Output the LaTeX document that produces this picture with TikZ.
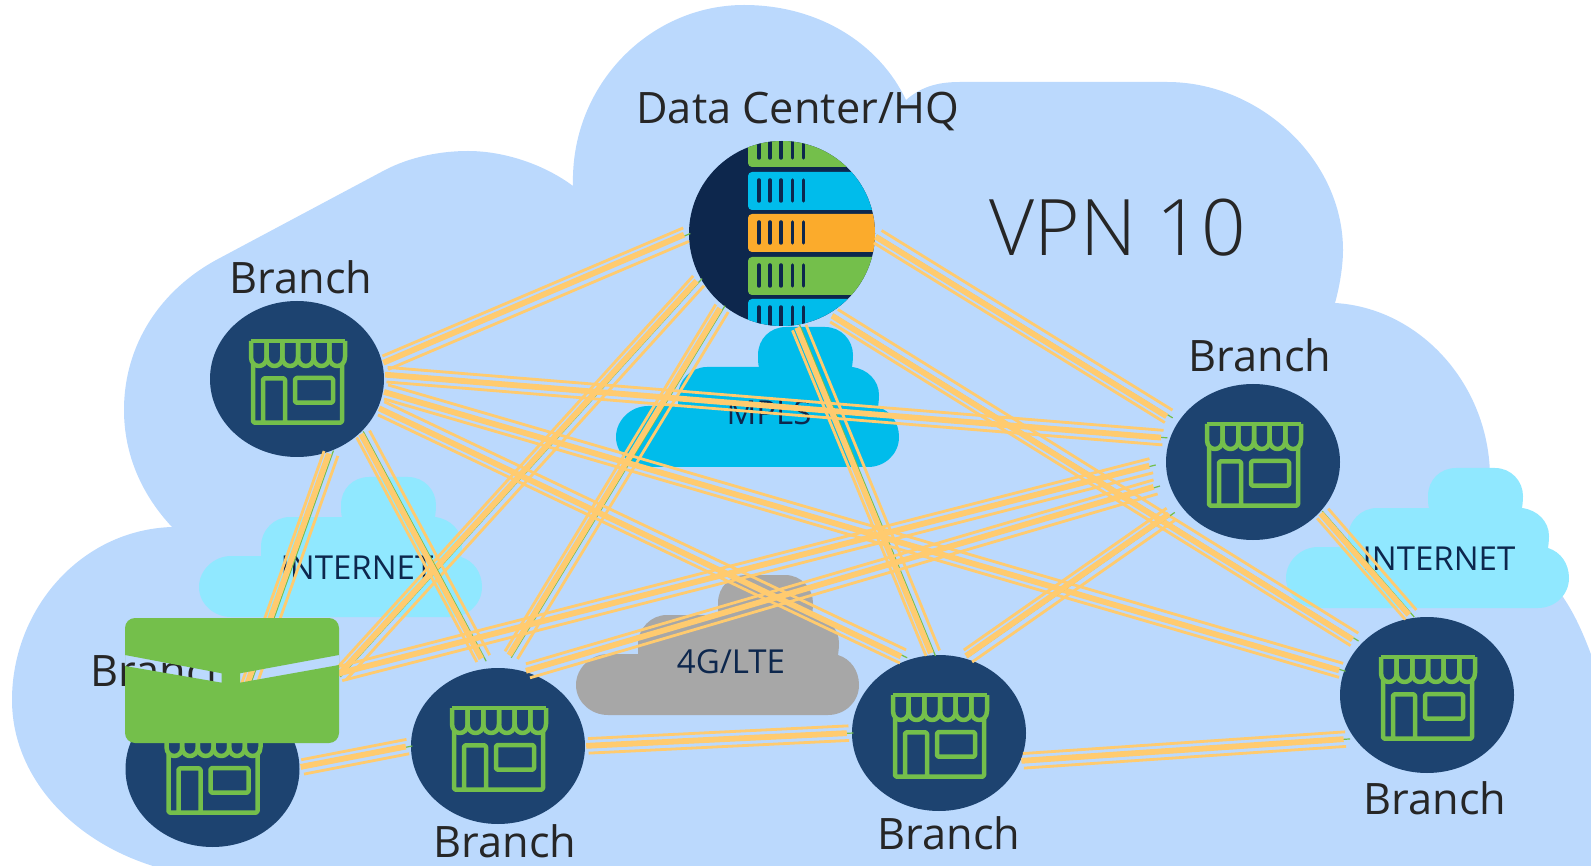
\documentclass[tikz,border=0pt]{standalone}
\usepackage{fontspec}
\setmainfont{Open Sans}
\newfontfamily\lightfont{Open Sans Light}
\usepackage{xcolor}
\definecolor{vpnblue}{RGB}{187,217,253}
\definecolor{sitenavy}{RGB}{29,67,112}
\definecolor{hqnavy}{RGB}{13,39,77}
\definecolor{leafgreen}{RGB}{116,191,75}
\definecolor{wanorange}{RGB}{255,203,111}
\definecolor{rackorange}{RGB}{251,171,44}
\definecolor{mplsblue}{RGB}{0,188,235}
\definecolor{netblue}{RGB}{144,232,255}
\definecolor{ltegray}{RGB}{167,167,167}
\usetikzlibrary{calc}
\usetikzlibrary{shapes.geometric}
\tikzset{
    site/.style={ellipse, fill=sitenavy, inner sep=0pt, minimum width=174pt, minimum height=156pt},
    sitelabel/.style={inner sep=0pt, text=black!85, font=\fontsize{43.3}{44}\selectfont},
    cloudlabel/.style={inner sep=0pt, text=hqnavy, font=\fontsize{33}{33}\selectfont},
    wanside/.style={wanorange, line width=2.8pt},
    wancore/.style={wanorange, line width=5.8pt},
    wanwire/.style={leafgreen, line width=1.2pt},
    hubrack/.style={
        path picture={
            \begin{scope}[shift={(path picture bounding box.center)}]
                \foreach \col/\top in {leafgreen/-104.5, mplsblue/-61.5, rackorange/-19.5, leafgreen/23.5, mplsblue/65.5} {
                    \fill[\col, rounded corners=4pt] (-34,\top) rectangle (110,\top+38);
                    \foreach \tick in {-23,-12,-1,10.7,21.7}
                        \draw[hqnavy, line width=3.5pt, line cap=round] (\tick,\top+8) -- (\tick,\top+29);
                }
            \end{scope}
        }
    },
    store/.pic={
        \draw[leafgreen, line width=4.5pt, line join=round, rounded corners=1.5pt]
            (-44,-15) -- (-44,43.7) -- (45,43.7) -- (45,-15)
            (-34,43.7) -- (-34,-0.7) -- (-12,-0.7) -- (-12,43.7)
            (-2,-1) rectangle (36,23.7);
        \draw[leafgreen, line width=4.5pt, line join=round] (-46,-38) -- (48,-38);
        \foreach \x in {-46,-30.33,-14.67,1,16.67,32.33}
            \draw[leafgreen, line width=4.5pt, line join=round]
                (\x,-38) -- (\x,-22) .. controls (\x,-10) and (\x+15.67,-10) .. (\x+15.67,-22) -- (\x+15.67,-38);
    },
    wancloud/.pic={
        \fill[pic actions] (32,140) .. controls (15,140) and (0,127) .. (0,110)
            .. controls (0,93) and (15,79) .. (32,79) -- (62,79) -- (62,70)
            .. controls (62,53) and (75,40) .. (91,40) -- (143,40)
            .. controls (142,37) and (142,33) .. (142,28)
            .. controls (142,12) and (154,0) .. (170,0) -- (209,0)
            .. controls (225,0) and (237,13) .. (237,28)
            .. controls (237,32) and (236.5,37) .. (236,40)
            .. controls (252,42) and (263,54) .. (263,68)
            .. controls (263,72) and (262.5,77) .. (262,80)
            .. controls (275,84) and (283,96) .. (283,110)
            .. controls (283,127) and (269,140) .. (252,140) -- cycle;
    }
}
% #1 from, #2 gap at from, #3 to, #4 gap at to
\newcommand{\wan}[4]{
    \coordinate (wa) at ($(#1)!#2pt!(#3)$);
    \coordinate (wb) at ($(#3)!#4pt!(#1)$);
    \draw[wanside] ($(wa)!7.3pt!90:(wb)$) -- ($(wb)!7.3pt!-90:(wa)$);
    \draw[wanside] ($(wa)!7.3pt!-90:(wb)$) -- ($(wb)!7.3pt!90:(wa)$);
    \draw[wanwire] ($(wa)!-3pt!(wb)+(1.5,0)$) -- ($(wb)!-3pt!(wa)+(1.5,0)$);
    \draw[wancore] ($(wa)+(-2,0)$) -- ($(wb)+(-2,0)$);
}

\begin{document}
\begin{tikzpicture}[x=1pt,y=-1pt]
    \path[use as bounding box, clip] (0,0) rectangle (1591,866);

    % the big cloud
    \fill[vpnblue] (573,186) .. controls (570,85) and (650,5) .. (744,5)
        .. controls (820,5) and (880,45) .. (906,100)
        .. controls (920,88) and (935,82) .. (960,82) -- (1167,82)
        .. controls (1260,82) and (1343,160) .. (1343,250)
        .. controls (1343,265) and (1340,285) .. (1335,303)
        .. controls (1420,308) and (1490,385) .. (1490,478)
        .. controls (1500,520) and (1540,560) .. (1563,597)
        .. controls (1575,615) and (1585,635) .. (1600,680)
        -- (1600,880) -- (160,880) -- (153,866)
        .. controls (70,840) and (12,775) .. (12,700)
        .. controls (12,610) and (80,530) .. (172,527)
        .. controls (142,495) and (124,455) .. (124,410)
        .. controls (124,345) and (160,290) .. (218,259) -- (385,170)
        .. controls (410,157) and (440,151) .. (468,151)
        .. controls (505,151) and (545,165) .. (573,186) -- cycle;

    \pic[fill=mplsblue] at (616,327) {wancloud};
    \pic[fill=netblue] at (1286,468) {wancloud};
    \pic[fill=netblue] at (199,477) {wancloud};
    \pic[fill=ltegray] at (576,575) {wancloud};
    \node[cloudlabel] (mpls) at (769,413) {MPLS};
    \node[cloudlabel] (netr) at (1439,559) {INTERNET};
    \node[cloudlabel] (netl) at (357,568) {INTERNET};
    \node[cloudlabel] (lte) at (731,662) {4G/LTE};

    \node[ellipse, fill=hqnavy, inner sep=0pt, minimum width=186pt, minimum height=185pt, hubrack] (hq) at (782,233.5) {};
    \node[site] (b1) at (297,379) {};
    \node[site] (bl) at (212.5,769) {};
    \node[site] (b2) at (498,746) {};
    \node[site] (b3) at (939,733) {};
    \node[site] (b4) at (1427,695) {};
    \node[site] (br) at (1253,462) {};
    \foreach \n in {b1,bl,b2,b3,b4,br}
        \pic at (\n) {store};

    \node[sitelabel] (hqtext) at (798,111) {Data Center/HQ};
    \node[sitelabel, font=\lightfont\fontsize{78}{78}\selectfont] (vpn) at (1118,228) {VPN 10};
    \node[sitelabel] (b1text) at (301,277) {Branch};
    \node[sitelabel] (bltext) at (162,670) {Branch};
    \node[sitelabel] (b2text) at (505,841) {Branch};
    \node[sitelabel] (b3text) at (949,833) {Branch};
    \node[sitelabel] (b4text) at (1435,798) {Branch};
    \node[sitelabel] (brtext) at (1260,355) {Branch};

    \wan{hq.180}{3}{b1.10}{3}
    \wan{hq.209}{3}{bl.26}{77}
    \wan{hq.231}{3}{b2.86}{15}
    \wan{hq.280}{3}{b3.94}{2}
    \wan{hq.301}{5}{b4.142}{8}
    \wan{hq.359}{3}{br.152}{11}
    \wan{b1.3}{3}{br.164.5}{7}
    \wan{b1.341}{3}{b3.112.7}{7}
    \wan{b1.352}{3}{b4.164}{3}
    \wan{b1.296}{3}{bl.66}{0}
    \wan{b1.321}{3}{b2.97}{11}
    \wan{bl.64}{96}{br.180}{15}
    \wan{b2.70}{3}{br.194.5}{14}
    \wan{b3.71}{4}{br.212.4}{13}
    \wan{bl.1}{3}{b2.180}{3}
    \wan{b2.0}{3}{b3.180}{3}
    \wan{b3.341}{3}{b4.211}{9}
    \wan{br.324}{3}{b4.100}{4}

    % the green tag, two slits show what lies under it
    \fill[leafgreen, even odd rule] [rounded corners=10pt] (125,618) rectangle (339,743)
        [sharp corners] (125,655) -- (221.7,673.3) -- (221.7,682.7) -- (125,666) -- cycle
        (240,673.3) -- (339,655) -- (339,665) -- (240,682.7) -- cycle;
\end{tikzpicture}
\end{document}
